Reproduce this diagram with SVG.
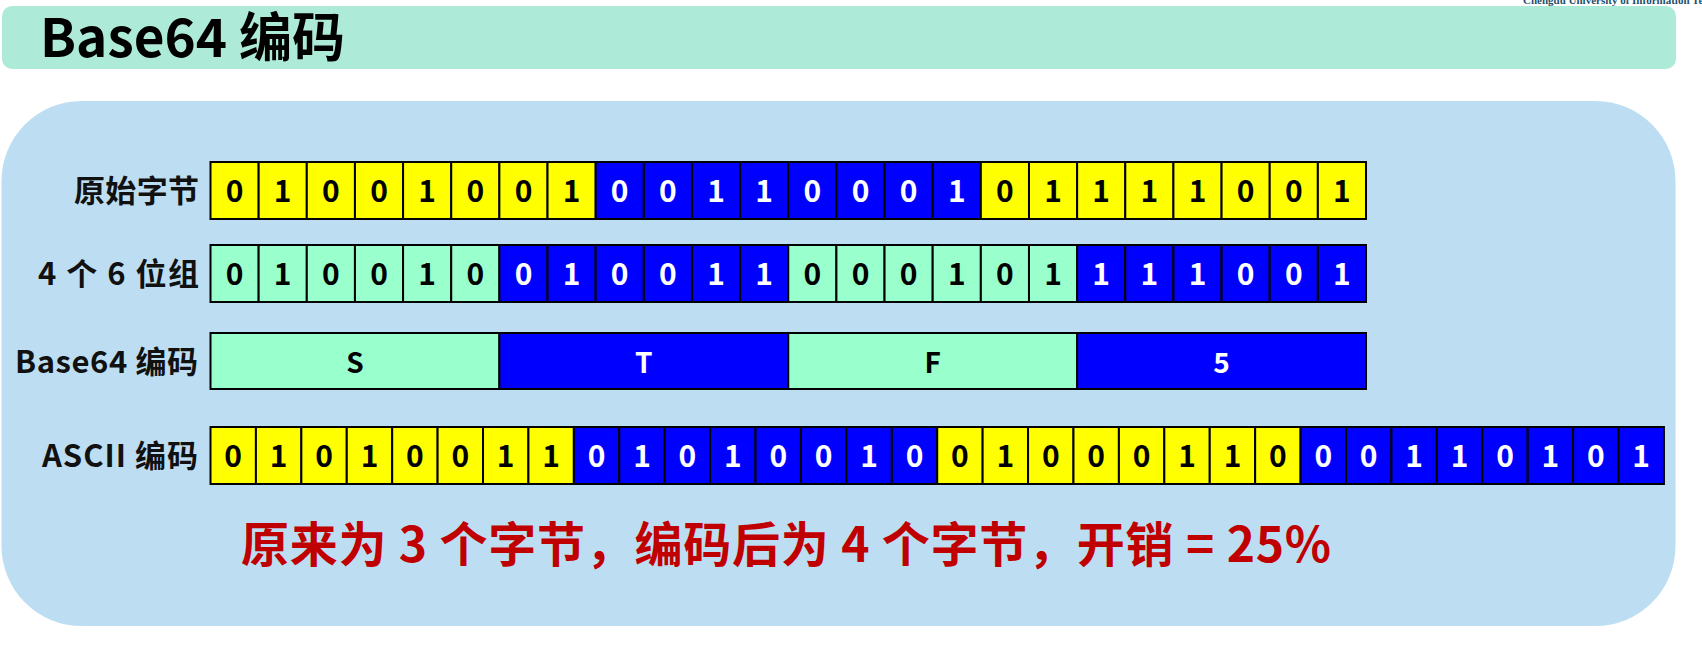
<svg xmlns="http://www.w3.org/2000/svg" width="1702" height="649" viewBox="0 0 1702 649">
<style>
text{font-family:"Noto Sans CJK SC","Noto Sans",sans-serif;font-weight:bold}
.y{fill:#FFFF00;stroke:#000;stroke-width:2}
.u{fill:#0000FF;stroke:#000;stroke-width:2}
.m{fill:#99FFCC;stroke:#000;stroke-width:2}
.d{font-size:30px;text-anchor:middle}
.k{fill:#000}
.w{fill:#FFF}
.lab{font-size:31px;fill:#111}
</style>
<rect x="0" y="0" width="1702" height="649" fill="#FFFFFF"/>
<text x="1523" y="3.5" style="font-family:'Liberation Serif',serif;font-size:11px;font-weight:bold" fill="#24506A">Chengdu University of Information Technology</text>
<g id="header">
<rect x="2" y="6" width="1674" height="63" rx="10" fill="#ADEBD8"/>
<text x="40" y="57" style="font-size:53px" fill="#000" textLength="305">Base64 编码</text>
</g>
<g id="panel">
<rect x="1.5" y="101" width="1674" height="525" rx="80" fill="#BDDEF2"/>
</g>
<g id="row1">
<text class="lab" x="74" y="201.5" textLength="125">原始字节</text>
<rect class="y" x="210.5" y="162" width="48.15" height="57"/><rect class="y" x="258.65" y="162" width="48.15" height="57"/><rect class="y" x="306.79" y="162" width="48.15" height="57"/><rect class="y" x="354.94" y="162" width="48.15" height="57"/><rect class="y" x="403.08" y="162" width="48.15" height="57"/><rect class="y" x="451.23" y="162" width="48.15" height="57"/><rect class="y" x="499.38" y="162" width="48.15" height="57"/><rect class="y" x="547.52" y="162" width="48.15" height="57"/>
<rect class="u" x="595.67" y="162" width="48.15" height="57"/><rect class="u" x="643.81" y="162" width="48.15" height="57"/><rect class="u" x="691.96" y="162" width="48.15" height="57"/><rect class="u" x="740.11" y="162" width="48.15" height="57"/><rect class="u" x="788.25" y="162" width="48.15" height="57"/><rect class="u" x="836.4" y="162" width="48.15" height="57"/><rect class="u" x="884.54" y="162" width="48.15" height="57"/><rect class="u" x="932.69" y="162" width="48.15" height="57"/>
<rect class="y" x="980.84" y="162" width="48.15" height="57"/><rect class="y" x="1028.98" y="162" width="48.15" height="57"/><rect class="y" x="1077.13" y="162" width="48.15" height="57"/><rect class="y" x="1125.27" y="162" width="48.15" height="57"/><rect class="y" x="1173.42" y="162" width="48.15" height="57"/><rect class="y" x="1221.57" y="162" width="48.15" height="57"/><rect class="y" x="1269.71" y="162" width="48.15" height="57"/><rect class="y" x="1317.86" y="162" width="48.15" height="57"/>
<text class="d k" y="201.5"><tspan x="234.6">0</tspan><tspan x="282.7">1</tspan><tspan x="330.9">0</tspan><tspan x="379">0</tspan><tspan x="427.2">1</tspan><tspan x="475.3">0</tspan><tspan x="523.5">0</tspan><tspan x="571.6">1</tspan></text>
<text class="d w" y="201.5"><tspan x="619.7">0</tspan><tspan x="667.9">0</tspan><tspan x="716">1</tspan><tspan x="764.2">1</tspan><tspan x="812.3">0</tspan><tspan x="860.5">0</tspan><tspan x="908.6">0</tspan><tspan x="956.8">1</tspan></text>
<text class="d k" y="201.5"><tspan x="1004.9">0</tspan><tspan x="1053.1">1</tspan><tspan x="1101.2">1</tspan><tspan x="1149.3">1</tspan><tspan x="1197.5">1</tspan><tspan x="1245.6">0</tspan><tspan x="1293.8">0</tspan><tspan x="1341.9">1</tspan></text>
</g>
<g id="row2">
<text class="lab" x="38" y="284.5" textLength="161">4 个 6 位组</text>
<rect class="m" x="210.5" y="245" width="48.15" height="57"/><rect class="m" x="258.65" y="245" width="48.15" height="57"/><rect class="m" x="306.79" y="245" width="48.15" height="57"/><rect class="m" x="354.94" y="245" width="48.15" height="57"/><rect class="m" x="403.08" y="245" width="48.15" height="57"/><rect class="m" x="451.23" y="245" width="48.15" height="57"/>
<rect class="u" x="499.38" y="245" width="48.15" height="57"/><rect class="u" x="547.52" y="245" width="48.15" height="57"/><rect class="u" x="595.67" y="245" width="48.15" height="57"/><rect class="u" x="643.81" y="245" width="48.15" height="57"/><rect class="u" x="691.96" y="245" width="48.15" height="57"/><rect class="u" x="740.11" y="245" width="48.15" height="57"/>
<rect class="m" x="788.25" y="245" width="48.15" height="57"/><rect class="m" x="836.4" y="245" width="48.15" height="57"/><rect class="m" x="884.54" y="245" width="48.15" height="57"/><rect class="m" x="932.69" y="245" width="48.15" height="57"/><rect class="m" x="980.84" y="245" width="48.15" height="57"/><rect class="m" x="1028.98" y="245" width="48.15" height="57"/>
<rect class="u" x="1077.13" y="245" width="48.15" height="57"/><rect class="u" x="1125.27" y="245" width="48.15" height="57"/><rect class="u" x="1173.42" y="245" width="48.15" height="57"/><rect class="u" x="1221.57" y="245" width="48.15" height="57"/><rect class="u" x="1269.71" y="245" width="48.15" height="57"/><rect class="u" x="1317.86" y="245" width="48.15" height="57"/>
<text class="d k" y="284.5"><tspan x="234.6">0</tspan><tspan x="282.7">1</tspan><tspan x="330.9">0</tspan><tspan x="379">0</tspan><tspan x="427.2">1</tspan><tspan x="475.3">0</tspan></text>
<text class="d w" y="284.5"><tspan x="523.5">0</tspan><tspan x="571.6">1</tspan><tspan x="619.7">0</tspan><tspan x="667.9">0</tspan><tspan x="716">1</tspan><tspan x="764.2">1</tspan></text>
<text class="d k" y="284.5"><tspan x="812.3">0</tspan><tspan x="860.5">0</tspan><tspan x="908.6">0</tspan><tspan x="956.8">1</tspan><tspan x="1004.9">0</tspan><tspan x="1053.1">1</tspan></text>
<text class="d w" y="284.5"><tspan x="1101.2">1</tspan><tspan x="1149.3">1</tspan><tspan x="1197.5">1</tspan><tspan x="1245.6">0</tspan><tspan x="1293.8">0</tspan><tspan x="1341.9">1</tspan></text>
</g>
<g id="row3">
<text class="lab" x="15" y="372.5" textLength="183">Base64 编码</text>
<rect class="m" x="210.5" y="333" width="288.88" height="56"/>
<rect class="u" x="499.38" y="333" width="288.87" height="56"/>
<rect class="m" x="788.25" y="333" width="288.88" height="56"/>
<rect class="u" x="1077.13" y="333" width="288.87" height="56"/>
<text class="d k" x="354.9" y="372.5" style="font-size:28px">S</text>
<text class="d w" x="643.8" y="372.5" style="font-size:28px">T</text>
<text class="d k" x="932.7" y="372.5" style="font-size:28px">F</text>
<text class="d w" x="1221.6" y="372.5" style="font-size:28px">5</text>
</g>
<g id="row4">
<text class="lab" x="42" y="467" textLength="156">ASCII 编码</text>
<rect class="y" x="210.5" y="427" width="45.42" height="57"/><rect class="y" x="255.92" y="427" width="45.42" height="57"/><rect class="y" x="301.34" y="427" width="45.42" height="57"/><rect class="y" x="346.76" y="427" width="45.42" height="57"/><rect class="y" x="392.18" y="427" width="45.42" height="57"/><rect class="y" x="437.6" y="427" width="45.42" height="57"/><rect class="y" x="483.02" y="427" width="45.42" height="57"/><rect class="y" x="528.44" y="427" width="45.42" height="57"/>
<rect class="u" x="573.86" y="427" width="45.42" height="57"/><rect class="u" x="619.28" y="427" width="45.42" height="57"/><rect class="u" x="664.7" y="427" width="45.42" height="57"/><rect class="u" x="710.12" y="427" width="45.42" height="57"/><rect class="u" x="755.54" y="427" width="45.42" height="57"/><rect class="u" x="800.96" y="427" width="45.42" height="57"/><rect class="u" x="846.38" y="427" width="45.42" height="57"/><rect class="u" x="891.8" y="427" width="45.42" height="57"/>
<rect class="y" x="937.22" y="427" width="45.42" height="57"/><rect class="y" x="982.64" y="427" width="45.42" height="57"/><rect class="y" x="1028.06" y="427" width="45.42" height="57"/><rect class="y" x="1073.48" y="427" width="45.42" height="57"/><rect class="y" x="1118.9" y="427" width="45.42" height="57"/><rect class="y" x="1164.32" y="427" width="45.42" height="57"/><rect class="y" x="1209.74" y="427" width="45.42" height="57"/><rect class="y" x="1255.16" y="427" width="45.42" height="57"/>
<rect class="u" x="1300.58" y="427" width="45.42" height="57"/><rect class="u" x="1346" y="427" width="45.42" height="57"/><rect class="u" x="1391.42" y="427" width="45.42" height="57"/><rect class="u" x="1436.84" y="427" width="45.42" height="57"/><rect class="u" x="1482.26" y="427" width="45.42" height="57"/><rect class="u" x="1527.68" y="427" width="45.42" height="57"/><rect class="u" x="1573.1" y="427" width="45.42" height="57"/><rect class="u" x="1618.52" y="427" width="45.42" height="57"/>
<text class="d k" y="467"><tspan x="233.2">0</tspan><tspan x="278.6">1</tspan><tspan x="324.1">0</tspan><tspan x="369.5">1</tspan><tspan x="414.9">0</tspan><tspan x="460.3">0</tspan><tspan x="505.7">1</tspan><tspan x="551.2">1</tspan></text>
<text class="d w" y="467"><tspan x="596.6">0</tspan><tspan x="642">1</tspan><tspan x="687.4">0</tspan><tspan x="732.8">1</tspan><tspan x="778.3">0</tspan><tspan x="823.7">0</tspan><tspan x="869.1">1</tspan><tspan x="914.5">0</tspan></text>
<text class="d k" y="467"><tspan x="959.9">0</tspan><tspan x="1005.4">1</tspan><tspan x="1050.8">0</tspan><tspan x="1096.2">0</tspan><tspan x="1141.6">0</tspan><tspan x="1187">1</tspan><tspan x="1232.5">1</tspan><tspan x="1277.9">0</tspan></text>
<text class="d w" y="467"><tspan x="1323.3">0</tspan><tspan x="1368.7">0</tspan><tspan x="1414.1">1</tspan><tspan x="1459.6">1</tspan><tspan x="1505">0</tspan><tspan x="1550.4">1</tspan><tspan x="1595.8">0</tspan><tspan x="1641.2">1</tspan></text>
</g>
<g id="summary">
<text x="241" y="562" style="font-size:48px" fill="#C00000" textLength="1090">原来为 3 个字节，编码后为 4 个字节，开销 = 25%</text>
</g>
<g id="connectors"></g>
</svg>
